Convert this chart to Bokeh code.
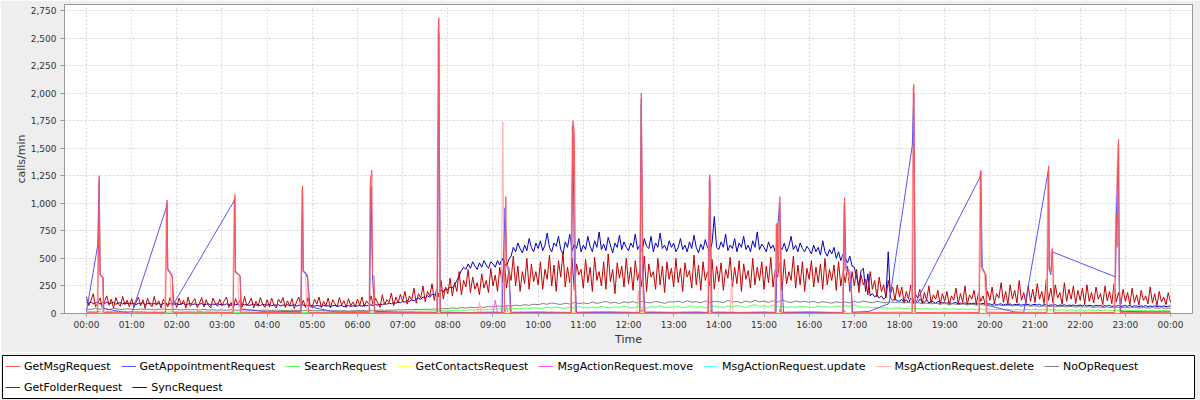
from bokeh.plotting import figure
from bokeh.models import Range1d, FixedTicker, NumeralTickFormatter, Legend, LegendItem
from bokeh.layouts import column
from bokeh.core.properties import value
from bokeh.embed import file_html
from bokeh.resources import INLINE

# ---------------- data ----------------
series_names = ["GetMsgRequest", "GetAppointmentRequest", "SearchRequest", "GetContactsRequest",
                "MsgActionRequest.move", "MsgActionRequest.update", "MsgActionRequest.delete",
                "NoOpRequest", "GetFolderRequest", "SyncRequest"]
series_colors = ["#FF5555", "#5555FF", "#55FF55", "#FFFF55", "#FF55FF", "#55FFFF",
                 "#FFAFAF", "#808080", "#C00000", "#0000C0"]

hour_ticks = list(range(0, 1441, 60))  # minutes since midnight
hour_labels = ["00:00", "01:00", "02:00", "03:00", "04:00", "05:00", "06:00", "07:00",
               "08:00", "09:00", "10:00", "11:00", "12:00", "13:00", "14:00", "15:00",
               "16:00", "17:00", "18:00", "19:00", "20:00", "21:00", "22:00", "23:00", "00:00"]
y_ticks = list(range(0, 2751, 250))

# 3-minute samples (one row per hour)
t3 = list(range(0, 1441, 3))
folder_v = [
    150, 70, 120, 180, 60, 95, 140, 55, 110, 160, 75, 130, 50, 145, 90, 65, 155, 80, 120, 60,
    135, 55, 100, 150, 70, 125, 45, 140, 85, 60, 155, 75, 115, 50, 130, 95, 60, 145, 70, 110,
    55, 140, 80, 120, 50, 150, 65, 105, 135, 55, 90, 145, 60, 125, 75, 50, 140, 95, 65, 130,
    70, 115, 150, 55, 100, 45, 135, 80, 120, 60, 155, 70, 95, 140, 50, 110, 65, 145, 85, 55,
    125, 60, 140, 75, 50, 130, 95, 145, 55, 115, 70, 135, 45, 105, 150, 65, 120, 55, 140, 80,
    60, 130, 85, 150, 55, 110, 70, 140, 50, 125, 90, 60, 145, 75, 115, 55, 135, 70, 105, 60,
    130, 75, 150, 60, 115, 85, 160, 70, 140, 95, 55, 170, 80, 125, 100, 185, 70, 150, 95, 175,
    110, 200, 85, 160, 120, 230, 95, 180, 140, 250, 105, 200, 160, 270, 120, 220, 150, 300, 130, 240,
    180, 320, 160, 280, 200, 380, 170, 300, 240, 400, 190, 330, 220, 280, 170, 360, 230, 300, 190, 410,
    250, 350, 200, 420, 280, 480, 230, 390, 300, 520, 250, 430, 200, 380, 270, 500, 220, 450, 290, 380,
    260, 470, 220, 400, 310, 530, 250, 440, 200, 480, 330, 560, 240, 420, 280, 500, 210, 450, 350, 400,
    230, 490, 280, 420, 200, 510, 300, 380, 250, 470, 220, 540, 290, 400, 180, 460, 320, 430, 240, 500,
    270, 420, 210, 480, 300, 390, 240, 520, 200, 450, 330, 380, 220, 500, 260, 430, 190, 470, 310, 410,
    240, 500, 280, 410, 200, 460, 330, 390, 230, 530, 260, 440, 210, 470, 300, 380, 250, 490, 220, 430,
    290, 460, 210, 400, 320, 510, 240, 420, 270, 480, 200, 450, 310, 390, 230, 500, 260, 420, 300, 470,
    220, 430, 280, 510, 240, 400, 330, 460, 210, 490, 270, 380, 300, 520, 230, 440, 260, 470, 200, 410,
    310, 480, 240, 420, 280, 450, 220, 500, 260, 400, 300, 440, 210, 470, 250, 390, 280, 430, 200, 380,
    250, 400, 190, 350, 260, 310, 170, 380, 220, 300, 150, 330, 200, 260, 140, 300, 180, 240, 120, 260,
    150, 240, 100, 200, 130, 260, 90, 180, 140, 220, 85, 190, 120, 250, 95, 170, 130, 210, 80, 180,
    110, 200, 75, 160, 120, 230, 90, 180, 100, 250, 80, 170, 130, 210, 85, 190, 110, 160, 75, 200,
    120, 240, 90, 180, 140, 280, 100, 200, 85, 260, 130, 210, 95, 300, 120, 190, 90, 250, 110, 220,
    100, 270, 130, 200, 90, 310, 120, 230, 95, 260, 140, 190, 85, 280, 110, 220, 130, 250, 90, 210,
    120, 230, 85, 260, 110, 190, 95, 240, 130, 180, 80, 250, 115, 200, 90, 270, 105, 190, 85, 220,
    110, 190, 80, 230, 100, 170, 75, 210, 120, 160, 85, 240, 95, 180, 70, 200, 105, 150, 80, 190,
    100]
sync_v = [
    100, 92, 105, 88, 96, 102, 85, 98, 90, 104, 87, 95, 100, 84, 93, 99, 86, 97, 90, 94,
    88, 96, 82, 92, 87, 98, 80, 91, 95, 84, 90, 86, 93, 81, 89, 94, 83, 88, 92, 85,
    90, 80, 87, 93, 78, 86, 91, 82, 88, 76, 85, 90, 79, 84, 88, 77, 86, 82, 89, 80,
    84, 77, 88, 80, 75, 85, 79, 83, 74, 86, 78, 82, 73, 80, 85, 76, 81, 72, 84, 78,
    76, 82, 70, 79, 74, 80, 68, 77, 73, 81, 69, 75, 78, 67, 76, 71, 79, 66, 74, 70,
    72, 66, 75, 69, 64, 73, 68, 71, 63, 70, 74, 65, 69, 72, 62, 68, 71, 64, 70, 67,
    68, 73, 65, 76, 70, 74, 78, 69, 82, 75, 86, 79, 90, 84, 95, 88, 100, 92, 105, 98,
    110, 102, 118, 108, 125, 115, 132, 140, 128, 150, 142, 160, 148, 175, 165, 190, 180, 210, 195, 225,
    215, 240, 230, 260, 300, 340, 390, 420, 400, 450, 410, 470, 430, 400, 460, 420, 480, 440, 410, 470,
    450, 420, 480, 440, 500, 460, 430, 490, 520, 600, 560, 640, 590, 550, 620, 570, 680, 600, 560, 640,
    590, 660, 570, 620, 730, 600, 560, 640, 610, 700, 580, 540, 650, 600, 720, 570, 630, 590, 680, 560,
    620, 580, 700, 610, 560, 660, 600, 740, 580, 630, 570, 690, 620, 550, 640, 600, 710, 580, 650, 600,
    570, 640, 600, 720, 580, 620, 560, 680, 610, 590, 700, 560, 640, 600, 730, 590, 620, 570, 660, 600,
    640, 560, 600, 680, 580, 620, 560, 650, 590, 710, 600, 550, 630, 580, 670, 600, 560, 640, 880, 600,
    580, 650, 600, 720, 570, 620, 590, 680, 560, 640, 600, 700, 580, 620, 560, 660, 600, 740, 580, 630,
    600, 560, 650, 590, 620, 560, 700, 600, 580, 640, 560, 610, 700, 580, 620, 560, 640, 590, 560, 610,
    580, 540, 620, 560, 600, 530, 660, 560, 520, 580, 540, 600, 500, 560, 480, 540, 500, 460, 520, 430,
    420, 330, 250, 390, 410, 200, 360, 160, 180, 150, 170, 140, 160, 130, 150, 560, 140, 120, 130, 115,
    110, 130, 100, 125, 95, 140, 105, 120, 98, 130, 110, 100, 125, 95, 115, 105, 92, 110, 100, 96,
    98, 92, 104, 88, 96, 100, 86, 94, 90, 98, 84, 92, 88, 95, 82, 90, 86, 93, 80, 88,
    86, 80, 90, 78, 84, 88, 76, 85, 80, 87, 75, 83, 79, 86, 74, 82, 78, 84, 73, 80,
    82, 76, 84, 72, 80, 78, 70, 79, 74, 81, 69, 77, 73, 80, 68, 76, 72, 78, 67, 74,
    76, 70, 78, 68, 74, 72, 66, 75, 69, 73, 65, 71, 68, 74, 64, 70, 67, 72, 63, 69,
    71, 66, 73, 64, 70, 67, 62, 69, 65, 71, 61, 68, 64, 70, 60, 67, 63, 69, 62, 66,
    68]

# 6-minute samples (one row per hour)
t6 = list(range(0, 1441, 6))
noop_v = [
    42, 36, 48, 38, 44, 35, 46, 40, 37, 43,
    39, 34, 42, 36, 40, 33, 38, 41, 34, 37,
    36, 31, 38, 33, 35, 30, 37, 32, 34, 30,
    33, 29, 35, 31, 28, 34, 30, 32, 27, 31,
    30, 26, 32, 28, 25, 30, 27, 29, 24, 28,
    27, 23, 29, 25, 22, 27, 24, 26, 22, 25,
    26, 29, 24, 30, 27, 32, 28, 31, 29, 34,
    31, 36, 33, 38, 35, 40, 37, 42, 39, 45,
    44, 50, 46, 54, 49, 57, 52, 60, 55, 63,
    60, 68, 63, 72, 66, 76, 70, 80, 74, 84,
    80, 90, 84, 96, 88, 82, 94, 86, 100, 90,
    96, 88, 104, 92, 100, 110, 94, 102, 90, 106,
    98, 108, 94, 112, 100, 96, 110, 102, 92, 106,
    104, 112, 98, 116, 102, 108, 96, 114, 100, 110,
    106, 98, 118, 104, 110, 96, 114, 102, 120, 106,
    112, 100, 116, 104, 124, 108, 98, 114, 104, 110,
    102, 110, 96, 108, 100, 94, 106, 98, 104, 96,
    108, 100, 112, 104, 98, 110, 102, 96, 106, 100,
    104, 96, 100, 92, 98, 90, 95, 88, 92, 86,
    90, 84, 88, 80, 86, 78, 84, 76, 82, 75,
    80, 72, 78, 70, 76, 68, 74, 67, 72, 66,
    70, 64, 68, 62, 67, 60, 65, 59, 64, 58,
    62, 57, 61, 55, 60, 54, 58, 53, 57, 52,
    56, 51, 55, 50, 54, 49, 53, 48, 52, 47,
    50]
search_v = [
    20, 15, 22, 17, 14, 19, 16, 21, 15, 18,
    17, 13, 19, 15, 12, 18, 14, 16, 12, 15,
    15, 11, 16, 13, 10, 15, 12, 14, 11, 13,
    13, 10, 14, 11, 9, 13, 10, 12, 9, 11,
    12, 9, 13, 10, 8, 12, 9, 11, 8, 10,
    11, 8, 12, 9, 7, 11, 8, 10, 8, 12,
    11, 14, 10, 15, 12, 16, 13, 17, 14, 18,
    16, 20, 17, 22, 19, 24, 20, 26, 22, 27,
    24, 29, 26, 32, 28, 35, 30, 37, 33, 39,
    36, 42, 38, 46, 40, 48, 43, 51, 45, 53,
    50, 44, 56, 48, 60, 52, 46, 58, 50, 62,
    54, 48, 60, 52, 66, 56, 50, 62, 54, 68,
    56, 50, 64, 54, 48, 62, 56, 70, 52, 60,
    58, 66, 52, 62, 70, 56, 64, 50, 60, 68,
    60, 54, 68, 58, 74, 62, 56, 70, 80, 64,
    72, 62, 76, 58, 66, 54, 62, 56, 64, 58,
    60, 54, 66, 58, 62, 56, 68, 60, 72, 64,
    78, 62, 56, 60, 52, 56, 48, 52, 45, 50,
    52, 44, 50, 42, 48, 40, 46, 39, 44, 38,
    45, 38, 43, 36, 42, 35, 41, 34, 40, 35,
    40, 34, 39, 33, 38, 32, 37, 31, 36, 32,
    37, 31, 36, 30, 35, 29, 34, 28, 33, 29,
    34, 28, 33, 27, 32, 26, 31, 25, 30, 27,
    31, 26, 30, 25, 29, 24, 28, 23, 27, 25,
    26]

# 30-minute samples
t30 = list(range(0, 1441, 30))
contacts_v = [3, 2, 4, 2, 3, 1, 2, 1, 2, 1, 2, 1, 2, 2, 3, 4, 5, 6, 7, 8, 6, 9, 7, 8, 10,
              7, 9, 6, 8, 10, 7, 8, 6, 9, 5, 7, 4, 5, 3, 4, 3, 4, 2, 3, 2, 3, 2, 2, 3]
msg_base_v = [12, 10, 14, 9, 11, 13, 10, 12, 9, 11, 10, 12, 8, 10, 11, 9, 12, 10, 14, 12,
              15, 11, 13, 16, 12, 14, 11, 15, 13, 10, 14, 12, 16, 11, 13, 10, 12, 9, 11, 10,
              12, 9, 11, 10, 12, 9, 11, 10, 12]

# GetMsgRequest burst samples (minute, calls/min)
msg_spike_t = [15, 17, 18, 22, 23,
               105, 107, 108, 112, 114, 115,
               195, 197, 198, 202, 204, 205,
               285, 287, 288, 292, 294, 295,
               376, 377, 379, 380, 382, 383,
               466, 468, 470,
               555, 557, 558, 561, 563,
               644, 646, 648, 650,
               735, 737, 739, 741,
               826, 828, 830,
               915, 917, 919, 921, 923,
               1005, 1007, 1008, 1012, 1016, 1017,
               1097, 1099, 1101,
               1186, 1188, 1189, 1192, 1195, 1196,
               1276, 1278, 1279, 1281, 1283, 1284, 1285,
               1366, 1368, 1369, 1371, 1372, 1373]
msg_spike_v = [10, 1250, 360, 330, 10,
               10, 1030, 410, 370, 340, 10,
               10, 1080, 385, 360, 345, 10,
               10, 1160, 390, 365, 340, 10,
               10, 1190, 1300, 350, 340, 10,
               10, 2680, 10,
               10, 1060, 430, 380, 10,
               10, 1750, 1650, 10,
               10, 2000, 400, 10,
               10, 1260, 10,
               10, 816, 400, 1060, 10,
               10, 1050, 400, 380, 300, 10,
               10, 2080, 10,
               10, 1300, 420, 380, 350, 10,
               10, 1340, 420, 380, 590, 400, 10,
               10, 900, 600, 1580, 300, 10]

appt_t = [0, 15, 17, 18, 22, 23, 60,
          106, 107, 108, 112, 114, 116,
          196, 197, 198, 202, 204, 206, 240,
          285, 287, 288, 292, 294, 297, 330,
          376, 378, 380, 383, 420,
          466, 468, 470, 510,
          552, 556, 558, 561, 564, 600,
          644, 646, 648, 651, 690,
          735, 737, 739, 742, 780,
          826, 828, 831, 870,
          916, 918, 921, 923, 926, 960,
          1005, 1007, 1009, 1014, 1018, 1040, 1066,
          1097, 1099, 1101,
          1187, 1188, 1190, 1194, 1196, 1232, 1245,
          1277, 1278, 1279, 1281, 1283,
          1367, 1368, 1371, 1372, 1374, 1410, 1440]
appt_v = [20, 620, 1200, 350, 330, 45, 0,
          960, 1000, 400, 360, 330, 90,
          1020, 1050, 370, 355, 340, 40, 15,
          20, 1100, 380, 360, 300, 60, 15,
          15, 1150, 330, 20, 10,
          10, 2550, 10, 8,
          8, 960, 440, 420, 10, 8,
          8, 1700, 500, 10, 8,
          8, 1950, 380, 10, 8,
          8, 1200, 10, 8,
          8, 780, 1000, 350, 10, 8,
          8, 1000, 420, 380, 10, 20, 90,
          1526, 2000, 90,
          1238, 1280, 420, 360, 75, 15, 10,
          1269, 1300, 400, 350, 559,
          332, 880, 1500, 200, 20, 15, 15]

del_t = [0, 14, 16, 17, 18, 21, 22, 60,
         104, 106, 107, 111, 113, 150,
         194, 196, 197, 201, 203, 250,
         284, 286, 287, 291, 293, 340,
         375, 377, 378, 380, 382, 420,
         465, 467, 469, 500,
         520, 522, 524,
         551, 553, 555, 600,
         643, 645, 647, 649, 690,
         731, 733, 735, 736, 738, 740, 800,
         825, 827, 829,
         855, 857, 859,
         914, 916, 918, 920, 922, 960,
         1004, 1006, 1007, 1011, 1015, 1017, 1060,
         1096, 1098, 1100, 1140,
         1185, 1187, 1188, 1193, 1195, 1240,
         1275, 1277, 1278, 1281, 1283, 1285, 1320,
         1365, 1367, 1370, 1372, 1374, 1440]
del_v = [3, 3, 1150, 1240, 350, 320, 3, 3,
         3, 1000, 400, 360, 3, 3,
         3, 1040, 380, 350, 3, 3,
         3, 1120, 385, 355, 3, 3,
         3, 1190, 1250, 340, 3, 3,
         3, 2600, 3, 3,
         3, 105, 3,
         3, 1740, 3, 3,
         3, 1700, 1600, 3, 3,
         3, 205, 3, 1900, 380, 3, 3,
         3, 1220, 3,
         3, 300, 3,
         3, 816, 350, 1000, 3, 3,
         3, 1000, 390, 370, 280, 3, 3,
         3, 2050, 3, 3,
         3, 1280, 410, 360, 3, 3,
         3, 1300, 400, 560, 580, 3, 3,
         3, 880, 1540, 280, 3, 3]

move_t = [0, 120, 240, 360, 480, 540, 543, 546, 556, 558, 560, 600, 700, 737, 738, 740,
          800, 828, 829, 831, 900, 920, 921, 923, 1006, 1007, 1009, 1100, 1200, 1320, 1440]
move_v = [2, 1, 2, 1, 3, 4, 120, 5, 6, 70, 5, 4, 3, 4, 40, 4,
          3, 3, 30, 3, 4, 3, 40, 3, 3, 30, 3, 2, 1, 1, 1]

update_t = [0, 180, 360, 480, 540, 600, 720, 840, 960, 1080, 1200, 1320, 1440]
update_v = [1, 1, 2, 2, 3, 5, 4, 5, 4, 2, 2, 1, 1]

for a, b in [(t3, folder_v), (t3, sync_v), (t6, noop_v), (t6, search_v), (t30, contacts_v),
             (t30, msg_base_v), (msg_spike_t, msg_spike_v), (appt_t, appt_v), (del_t, del_v),
             (move_t, move_v), (update_t, update_v)]:
    assert len(a) == len(b), (len(a), len(b))

msg_pairs = sorted(zip(t30 + msg_spike_t, msg_base_v + msg_spike_v))
msg_t = [q[0] for q in msg_pairs]
msg_v = [q[1] for q in msg_pairs]

series_data = {
    "GetMsgRequest": (msg_t, msg_v),
    "GetAppointmentRequest": (appt_t, appt_v),
    "SearchRequest": (t6, search_v),
    "GetContactsRequest": (t30, contacts_v),
    "MsgActionRequest.move": (move_t, move_v),
    "MsgActionRequest.update": (update_t, update_v),
    "MsgActionRequest.delete": (del_t, del_v),
    "NoOpRequest": (t6, noop_v),
    "GetFolderRequest": (t3, folder_v),
    "SyncRequest": (t3, sync_v),
}

# ---------------- chart ----------------
FONT = "DejaVu Sans"
p = figure(width=1200, height=352, x_range=Range1d(-29.2, 1469.2), y_range=Range1d(0, 2804),
           output_backend="svg", toolbar_location=None,
           min_border_left=64, min_border_right=8, min_border_top=4, min_border_bottom=39)
p.frame_align = False
p.background_fill_color = "white"
p.border_fill_color = "#EEEEEE"
p.outline_line_color = "#999999"

# draw last series first so that GetMsgRequest ends on top
for name, col in reversed(list(zip(series_names, series_colors))):
    xs, ys = series_data[name]
    p.line(xs, ys, line_color=col, line_width=1)

p.xaxis.ticker = FixedTicker(ticks=hour_ticks)
p.xaxis.major_label_overrides = {t: lab for t, lab in zip(hour_ticks, hour_labels)}
p.yaxis.ticker = FixedTicker(ticks=y_ticks)
p.yaxis.formatter = NumeralTickFormatter(format="0,0")
p.xaxis.axis_label = "Time"
p.yaxis.axis_label = "calls/min"
for ax in (p.xaxis, p.yaxis):
    ax.axis_line_color = "#999999"
    ax.major_tick_line_color = "#999999"
    ax.minor_tick_line_color = None
    ax.major_tick_in = 0
    ax.major_label_text_font = FONT
    ax.major_label_text_font_size = "9px"
    ax.major_label_text_color = "#333333"
    ax.axis_label_text_font = FONT
    ax.axis_label_text_font_size = "11px"
    ax.axis_label_text_font_style = "normal"
    ax.axis_label_text_color = "#333333"
p.xaxis.major_tick_out = 3
p.xaxis.major_label_standoff = 3
p.xaxis.axis_label_standoff = 0
p.yaxis.major_tick_out = 4
p.yaxis.major_label_standoff = 4
p.yaxis.axis_label_standoff = 0

p.xgrid.ticker = FixedTicker(ticks=hour_ticks)
p.ygrid.ticker = FixedTicker(ticks=y_ticks)
p.grid.grid_line_color = "#D6D6D6"
p.grid.grid_line_dash = "2 2"
p.grid.grid_line_width = 1

# ---------------- legend box (second figure, its frame is the box) ----------------
p2 = figure(width=1200, height=48, x_range=Range1d(0, 1), y_range=Range1d(0, 1),
            output_backend="svg", toolbar_location=None,
            x_axis_location=None, y_axis_location=None,
            min_border_left=2, min_border_right=6, min_border_top=3, min_border_bottom=2)
p2.frame_align = False
p2.grid.visible = False
p2.background_fill_color = "white"
p2.border_fill_color = "#EEEEEE"
p2.outline_line_color = "black"

nan = float("nan")
items = []
for name, col in zip(series_names, series_colors):
    r = p2.line([nan], [nan], line_color=col, line_width=1)
    items.append(LegendItem(label=value(name), renderers=[r]))

leg1 = Legend(items=items[:8], location=(3, 25))
leg2 = Legend(items=items[8:], location=(3, 4))
for leg in (leg1, leg2):
    leg.orientation = "horizontal"
    leg.border_line_alpha = 0
    leg.background_fill_alpha = 0
    leg.padding = 0
    leg.margin = 0
    leg.spacing = 10
    leg.glyph_width = 15
    leg.glyph_height = 14
    leg.label_height = 14
    leg.label_standoff = 4
    leg.label_text_font = FONT
    leg.label_text_font_size = "11px"
    leg.label_text_color = "black"
    p2.add_layout(leg, "center")

layout = column(p, p2, spacing=0)
open("out.html", "w").write(file_html(layout, INLINE))
